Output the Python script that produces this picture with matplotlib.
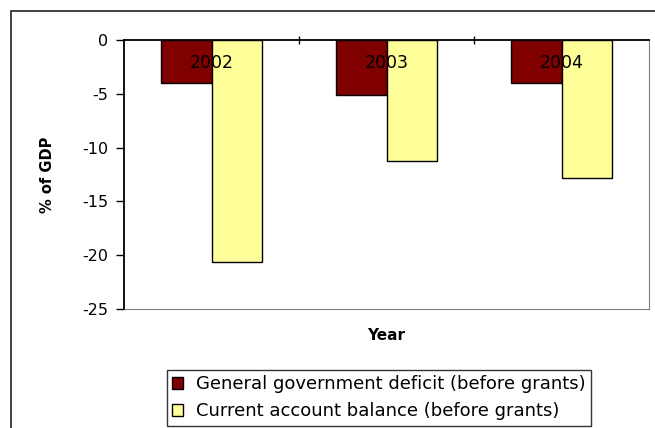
import matplotlib
matplotlib.use("Agg")
import matplotlib.pyplot as plt
from matplotlib.patches import Rectangle
import numpy as np

years = ["2002", "2003", "2004"]
gov_deficit = [-4.0, -5.1, -4.0]
current_account = [-20.6, -11.2, -12.8]
series_names = ["General government deficit (before grants)",
                "Current account balance (before grants)"]

plt.rcParams['axes.unicode_minus'] = False
plt.rcParams['font.family'] = ['DejaVu Sans']

W, H = 655, 428
fig = plt.figure(figsize=(W / 100, H / 100), dpi=100)

# outer chart frame (runs off the right and bottom of the picture)
fig.patches.append(Rectangle((11 / W, -0.2), 1.2, 1.2 - 11 / H,
                             transform=fig.transFigure, fill=False,
                             edgecolor='#222222', lw=1.2, zorder=0))

ax = fig.add_axes([124 / W, (H - 309) / H, (649 - 124) / W, (309 - 40) / H])
ax.set_axisbelow(False)

x = np.arange(len(years))
bw = 0.29
ax.bar(x - bw / 2, gov_deficit, bw, color='#800000', edgecolor='black',
       lw=1, label=series_names[0], zorder=2)
ax.bar(x + bw / 2, current_account, bw, color='#FFFF99', edgecolor='black',
       lw=1, label=series_names[1], zorder=2)

ax.set_xlim(-0.5, len(years) - 0.5)
ax.set_ylim(-25, 0)
ax.set_yticks(np.arange(0, -26, -5))
ax.tick_params(axis='y', direction='out', length=5.5, width=1, labelsize=11.5,
               pad=6)

# category labels sit just under the zero line
ax.xaxis.tick_top()
ax.set_xticks(x)
ax.set_xticklabels(years)
ax.tick_params(axis='x', which='major', length=0, labelsize=12.5, pad=-23)
ax.set_xticks(x[:-1] + 0.5, minor=True)
ax.tick_params(axis='x', which='minor', top=True, direction='inout',
               length=6, width=1)

ax.spines['top'].set_color('black')
ax.spines['top'].set_linewidth(1.3)
ax.spines['left'].set_color('black')
ax.spines['left'].set_linewidth(1.3)
ax.spines['right'].set_color('#808080')
ax.spines['bottom'].set_color('#808080')

ax.set_ylabel("% of GDP", fontsize=10.5, fontweight='bold')
ax.yaxis.set_label_coords(-0.131, 0.5)
ax.xaxis.set_label_position('bottom')
ax.set_xlabel("Year", fontsize=11, fontweight='bold')
ax.xaxis.set_label_coords(0.5, -0.07)

leg = fig.legend(loc='upper left', bbox_to_anchor=(167 / W, 1 - 370 / H),
                 borderaxespad=0, fontsize=13, frameon=True, fancybox=False,
                 edgecolor='black', handlelength=0.6, handleheight=0.6,
                 handletextpad=0.7, labelspacing=0.5, borderpad=0.3)
leg.get_frame().set_linewidth(1)

fig.savefig("out.png", dpi=100)
